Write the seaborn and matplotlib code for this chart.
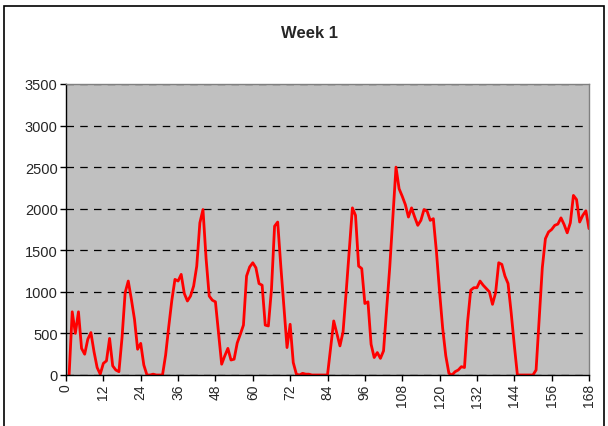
import numpy as np
import pandas as pd
import matplotlib
matplotlib.use("Agg")
import matplotlib.pyplot as plt
from matplotlib.patches import Rectangle
import seaborn as sns

# hourly readings for week 1 (hours 1..168)
hours = list(range(1, 169))
values = [
    0, 760, 500, 760, 320, 250, 430, 510, 280, 90,            # 1-10
    10, 140, 170, 440, 110, 60, 40, 450, 990, 1130,           # 11-20
    910, 670, 310, 380, 120, 0, 0, 10, 0, 0,                  # 21-30
    0, 240, 580, 900, 1150, 1130, 1210, 980, 890, 950,        # 31-40
    1070, 1310, 1830, 1990, 1400, 950, 900, 880, 500, 130,    # 41-50
    230, 320, 180, 190, 385, 490, 600, 1190, 1300, 1350,      # 51-60
    1290, 1100, 1080, 600, 590, 1030, 1790, 1840, 1310, 820,  # 61-70
    330, 610, 150, 10, 0, 20, 10, 10, 0, 0,                   # 71-80
    0, 0, 0, 0, 330, 650, 500, 350, 520, 1000,                # 81-90
    1510, 2010, 1920, 1310, 1280, 860, 880, 370, 210, 270,    # 91-100
    200, 290, 800, 1300, 1900, 2500, 2240, 2150, 2050, 1900,  # 101-110
    2010, 1900, 1800, 1860, 1990, 1970, 1860, 1880, 1480, 1000,  # 111-120
    560, 230, 20, 0, 40, 60, 100, 90, 640, 1020,              # 121-130
    1050, 1050, 1130, 1080, 1040, 1000, 850, 990, 1350, 1330,  # 131-140
    1190, 1100, 750, 360, 0, 0, 0, 0, 0, 0,                   # 141-150
    60, 670, 1290, 1640, 1720, 1750, 1800, 1815, 1890, 1810,  # 151-160
    1710, 1830, 2160, 2110, 1840, 1920, 1975, 1760,           # 161-168
]
x_ticks = list(range(0, 169, 12))
y_ticks = list(range(0, 3501, 500))

df = pd.DataFrame({"Hour": hours, "Value": values})

sns.set_style("ticks")
plt.rcParams["font.family"] = ["Liberation Sans", "DejaVu Sans"]

fig = plt.figure(figsize=(6.08, 4.27), dpi=100)
ax = fig.add_axes([66 / 608, 1 - 376 / 427, 523 / 608, 291 / 427])
ax.set_facecolor("#C0C0C0")

sns.lineplot(data=df, x="Hour", y="Value", color="red", linewidth=2.0, ax=ax)

ax.set_xlim(0, 168)
ax.set_ylim(0, 3500)
ax.set_xticks(x_ticks)
ax.set_yticks(y_ticks)
ax.set_xticklabels([str(t) for t in x_ticks], rotation=90, fontsize=10)
ax.set_yticklabels([str(t) for t in y_ticks], fontsize=10.5)
ax.tick_params(axis="both", direction="out", length=4, width=1, color="black", pad=2)
ax.set_xlabel("")
ax.set_ylabel("")

ax.yaxis.grid(True, color="black", linestyle=(0, (6, 5)), linewidth=0.9)
ax.set_axisbelow(True)

for side in ["left", "bottom"]:
    ax.spines[side].set_color("black")
    ax.spines[side].set_linewidth(1)
for side in ["top", "right"]:
    ax.spines[side].set_visible(True)
    ax.spines[side].set_color("#808080")
    ax.spines[side].set_linewidth(1)

fig.text(310 / 608, 1 - 33 / 427, "Week 1", ha="center", va="center",
         fontsize=12, fontweight="bold")

# chart border
fig.patches.append(Rectangle((4 / 608, -0.05), 600 / 608, 1.05 - 7 / 427,
                             transform=fig.transFigure, fill=False,
                             edgecolor="black", linewidth=1.2))

fig.savefig("out.png", dpi=100)
